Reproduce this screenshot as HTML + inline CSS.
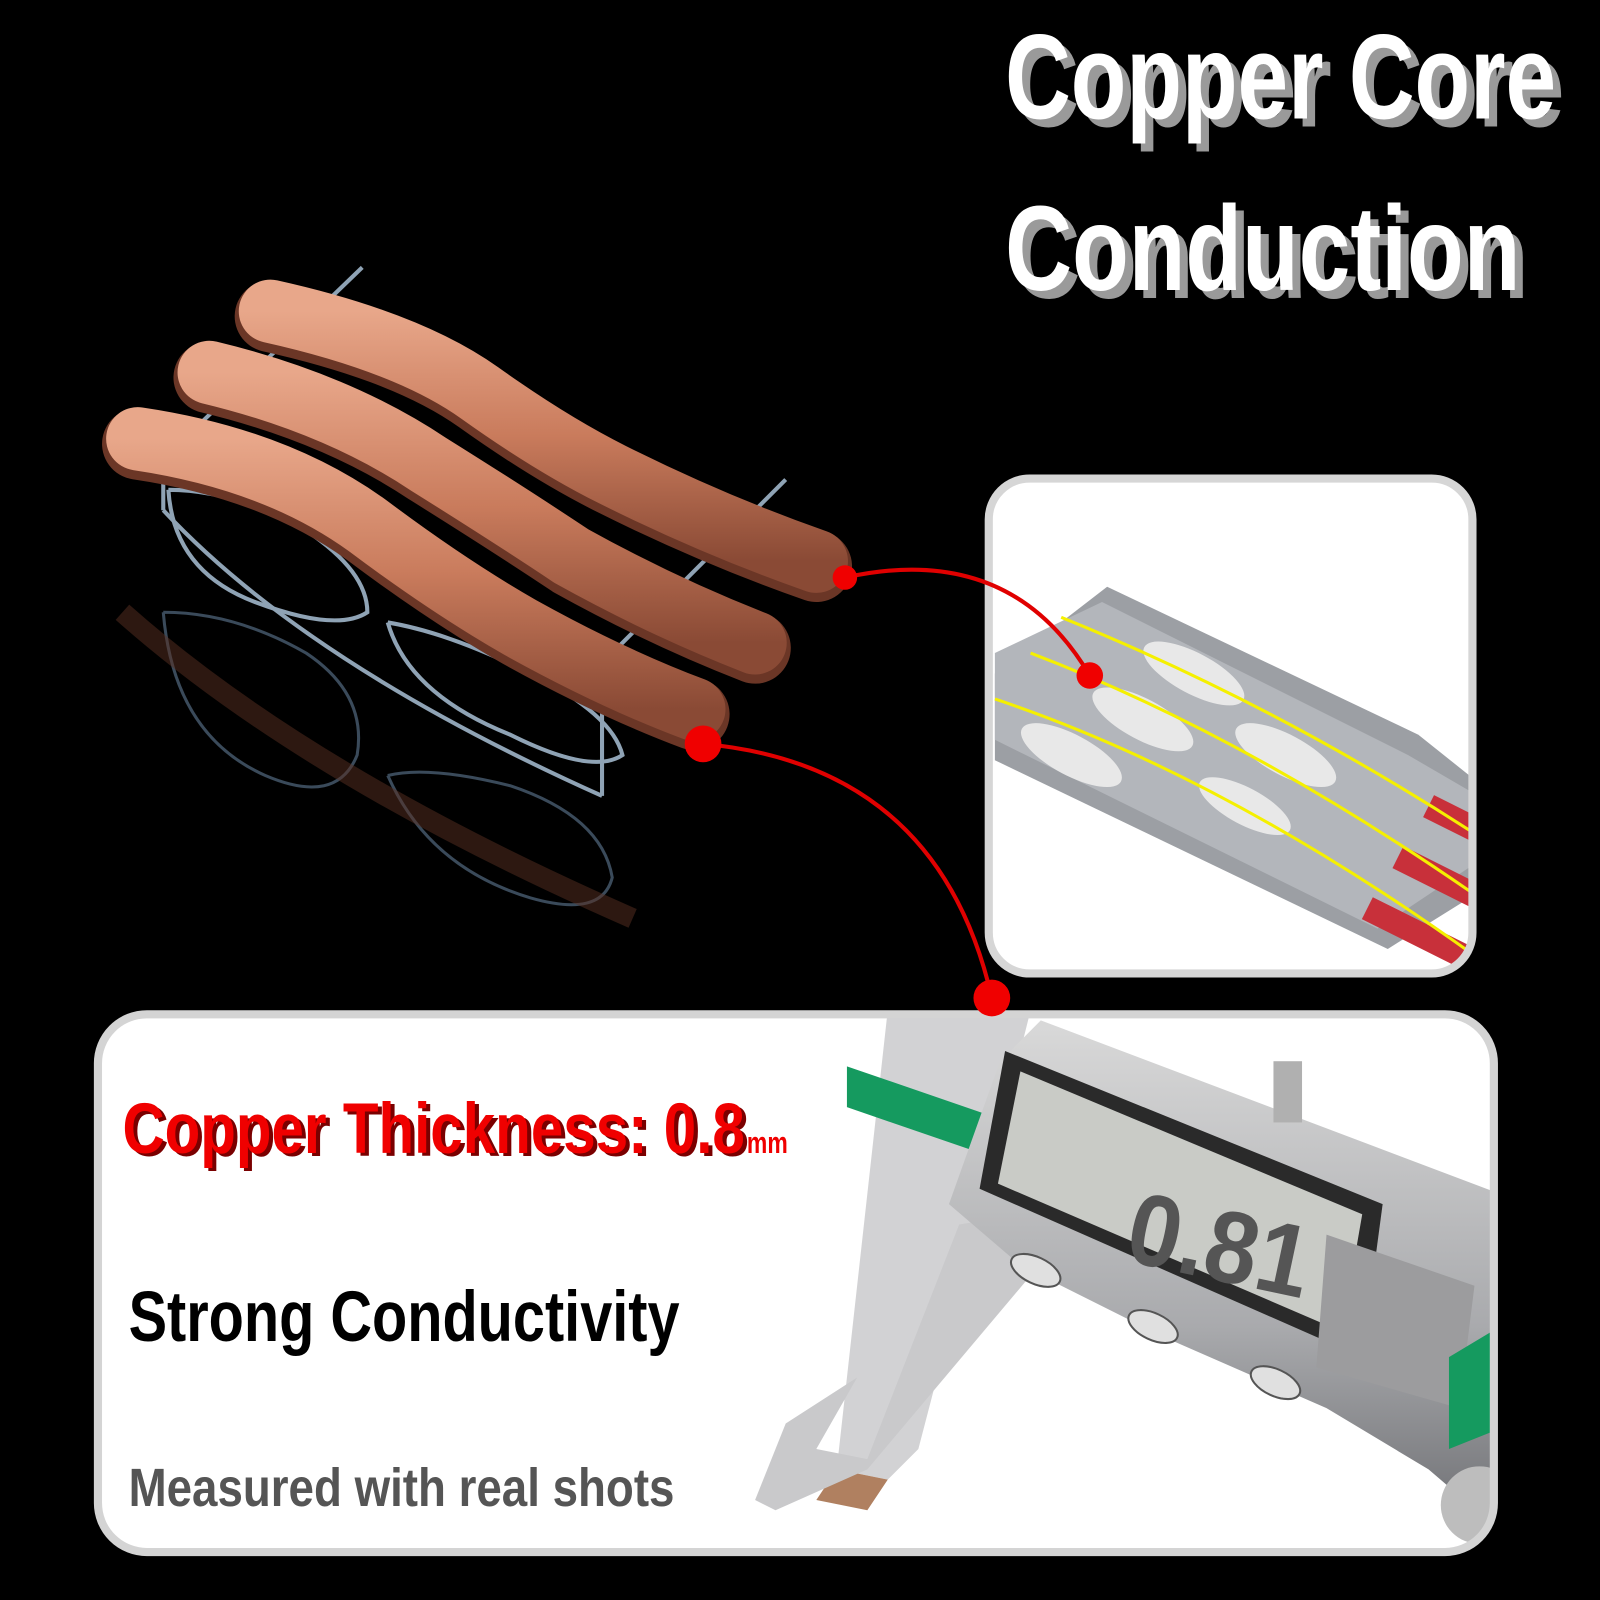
<!DOCTYPE html>
<html><head><meta charset="utf-8"><style>
html,body{margin:0;padding:0;background:#000;}
svg{display:block}
text{font-family:"Liberation Sans",sans-serif;font-weight:bold}
</style></head><body>
<svg width="1600" height="1600" viewBox="0 0 1600 1600" xmlns="http://www.w3.org/2000/svg">
<defs>
<linearGradient id="cu" x1="0" y1="0" x2="0" y2="1">
<stop offset="0" stop-color="#e8a78a"/><stop offset="0.5" stop-color="#c97b5c"/><stop offset="1" stop-color="#8a4a35"/>
</linearGradient>
<linearGradient id="body" x1="0" y1="0" x2="0" y2="1">
<stop offset="0" stop-color="#d9d9d9"/><stop offset="0.6" stop-color="#a9aaad"/><stop offset="1" stop-color="#6d6e72"/>
</linearGradient>
<clipPath id="rp"><rect x="969" y="469" width="474" height="485" rx="40"/></clipPath>
<clipPath id="bp"><rect x="96" y="994" width="1368" height="527" rx="48"/></clipPath>
</defs>
<rect width="1600" height="1600" fill="#000"/>
<g transform="scale(1.0204)">

<g fill="#9a9a9a">
<text x="993" y="124" font-size="118" textLength="540" lengthAdjust="spacingAndGlyphs">Copper Core</text>
<text x="993" y="292" font-size="118" textLength="505" lengthAdjust="spacingAndGlyphs">Conduction</text>
</g>
<g fill="#fff">
<text x="985" y="116" font-size="118" textLength="540" lengthAdjust="spacingAndGlyphs">Copper Core</text>
<text x="985" y="284" font-size="118" textLength="505" lengthAdjust="spacingAndGlyphs">Conduction</text>
</g>

<g fill="none" stroke="#3a4a5a" stroke-width="3">
<path d="M160 600 Q170 720 260 760 Q330 790 350 740 Q360 680 300 640 Q230 600 160 600"/>
<path d="M380 760 Q420 850 520 880 Q590 900 600 860 Q590 800 500 770 Q420 750 380 760"/>
</g>
<path d="M120 600 Q300 760 620 900" stroke="#5a3022" stroke-width="20" fill="none" opacity="0.5"/>

<g fill="none" stroke="#8fa3b5" stroke-width="4">
<path d="M165 480 Q170 560 250 590 Q330 620 360 600 Q360 560 300 520 Q230 480 165 480"/>
<path d="M380 610 Q400 680 500 720 Q580 760 610 740 Q600 700 520 660 Q440 620 380 610"/>
<path d="M355 262 L160 450 L160 500"/>
<path d="M770 470 L590 650 L590 780"/>
<path d="M160 500 Q300 650 590 780"/>
</g>

<g fill="none" stroke-linecap="round">
<path d="M265 310 Q400 340 470 390 Q540 440 600 470 Q700 520 800 555" stroke="#6b3626" stroke-width="70"/>
<path d="M265 305 Q400 335 470 385 Q540 435 600 465 Q700 515 800 550" stroke="url(#cu)" stroke-width="62"/>
<path d="M205 370 Q330 400 420 460 Q500 510 560 550 Q650 600 740 635" stroke="#6b3626" stroke-width="70"/>
<path d="M205 365 Q330 395 420 455 Q500 505 560 545 Q650 595 740 630" stroke="url(#cu)" stroke-width="62"/>
<path d="M135 435 Q270 455 360 520 Q440 580 510 620 Q600 670 680 700" stroke="#6b3626" stroke-width="70"/>
<path d="M135 430 Q270 450 360 515 Q440 575 510 615 Q600 665 680 695" stroke="url(#cu)" stroke-width="62"/>
</g>

<rect x="969" y="469" width="474" height="485" rx="40" fill="#fff"/>
<g clip-path="url(#rp)">
<path d="M975 660 L1085 575 L1390 720 L1440 760 L1440 880 L1360 930 L975 745 Z" fill="#9c9fa4"/>
<path d="M975 640 L1080 590 L1380 740 L1440 775 L1440 850 L1350 910 L975 725 Z" fill="#b3b6bb"/>
<g fill="#e8e8e8"><ellipse cx="1170" cy="660" rx="55" ry="20" transform="rotate(28 1170 660)"/><ellipse cx="1120" cy="705" rx="55" ry="20" transform="rotate(28 1120 705)"/><ellipse cx="1260" cy="740" rx="55" ry="20" transform="rotate(28 1260 740)"/><ellipse cx="1050" cy="740" rx="55" ry="20" transform="rotate(28 1050 740)"/><ellipse cx="1220" cy="790" rx="50" ry="18" transform="rotate(28 1220 790)"/></g>
<g stroke="#c8303a" stroke-width="24"><line x1="1400" y1="790" x2="1460" y2="820"/><line x1="1370" y1="840" x2="1460" y2="885"/><line x1="1340" y1="890" x2="1460" y2="950"/></g>
<g stroke="#f5f000" stroke-width="3" fill="none">
<path d="M1040 605 Q1250 690 1450 820"/>
<path d="M1010 640 Q1220 720 1450 880"/>
<path d="M975 685 Q1200 760 1450 940"/>
</g>
</g>
<rect x="969" y="469" width="474" height="485" rx="40" fill="none" stroke="#d6d6d6" stroke-width="8"/>

<rect x="96" y="994" width="1368" height="527" rx="48" fill="#fff"/>
<g clip-path="url(#bp)">
<path d="M870 990 L1010 990 L960 1190 L900 1420 L870 1450 L820 1440 Z" fill="#d2d2d4"/>
<path d="M820 1440 L870 1450 L850 1480 L800 1470 Z" fill="#b08060"/>
<path d="M1000 1190 L940 1200 L850 1430 L800 1420 L840 1350 L770 1395 L740 1470 L760 1480 L850 1440 L1010 1250 Z" fill="#c9c9cb"/>
<path d="M830 1045 L990 1100 L990 1140 L830 1085 Z" fill="#159a5f"/>
<path d="M1020 1000 L1470 1170 L1470 1500 L1400 1440 L1300 1380 L1140 1310 L1000 1240 L930 1180 L980 1040 Z" fill="url(#body)"/>
<path d="M985 1030 L1355 1180 L1335 1330 L960 1165 Z" fill="#2a2a2a"/>
<path d="M1000 1050 L1335 1190 L1315 1305 L978 1160 Z" fill="#c9cbc6"/>
<text x="1100" y="1235" font-size="100" fill="#555" font-weight="normal" transform="rotate(12 1100 1235)" textLength="180" lengthAdjust="spacingAndGlyphs">0.81</text>
<path d="M1300 1210 L1445 1260 L1430 1380 L1290 1340 Z" fill="#9c9c9e"/>
<path d="M1420 1330 L1470 1300 L1470 1400 L1420 1420 Z" fill="#159a5f"/>
<g fill="#e0e0e0" stroke="#555" stroke-width="2">
<ellipse cx="1015" cy="1245" rx="26" ry="13" transform="rotate(25 1015 1245)"/>
<ellipse cx="1130" cy="1300" rx="26" ry="13" transform="rotate(25 1130 1300)"/>
<ellipse cx="1250" cy="1355" rx="26" ry="13" transform="rotate(25 1250 1355)"/>
</g>
<circle cx="1450" cy="1475" r="38" fill="#bdbdbd"/>
<rect x="1248" y="1040" width="28" height="60" fill="#b0b0b0"/>
</g>
<rect x="96" y="994" width="1368" height="527" rx="48" fill="none" stroke="#d4d4d4" stroke-width="8"/>
<text x="124" y="1133" font-size="70" fill="#7a0000" textLength="610" lengthAdjust="spacingAndGlyphs">Copper Thickness: 0.8</text>
<text x="120" y="1130" font-size="70" fill="#f00000" textLength="610" lengthAdjust="spacingAndGlyphs">Copper Thickness: 0.8</text>
<text x="732" y="1130" font-size="30" fill="#f00000" textLength="40" lengthAdjust="spacingAndGlyphs">mm</text>
<text x="126" y="1314" font-size="70" fill="#000" textLength="540" lengthAdjust="spacingAndGlyphs">Strong Conductivity</text>
<text x="126" y="1476" font-size="53" fill="#555" textLength="535" lengthAdjust="spacingAndGlyphs">Measured with real shots</text>

<g fill="none" stroke="#e00000" stroke-width="4">
<path d="M828 566 Q990 530 1068 662"/>
<path d="M689 729 Q920 750 972 978"/>
</g>
<g fill="#f00000">
<circle cx="828" cy="566" r="12"/>
<circle cx="689" cy="729" r="18"/>
<circle cx="1068" cy="662" r="13"/>
<circle cx="972" cy="978" r="18"/>
</g>
</g>
</svg>
</body></html>
